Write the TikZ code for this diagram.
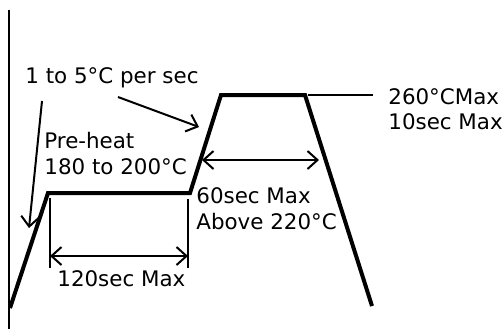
\documentclass[tikz,border=0pt]{standalone}
\usepackage{fontspec}
\setmainfont{DejaVu Sans}
\usetikzlibrary{arrows.meta}

\begin{document}
\begin{tikzpicture}[x=0.5pt,y=-0.5pt,
        txt/.style={anchor=base west,inner sep=0pt,font=\fontsize{10.7}{13}\selectfont},
        barb/.style={-{Straight Barb[length=5pt,width=9pt]},line width=1pt},
        dimarrow/.style={{Straight Barb[length=5pt,width=9pt]}-{Straight Barb[length=5pt,width=9pt]},line width=1pt}]
        \useasboundingbox(0,0)rectangle(502,329);
        \draw[line width=0.7pt](9,10)--(9,329);
        \draw[line width=2pt,line join=miter](10,308)--(48,193)--(190,193)--(221,95)--(305,95)--(372,306);
        \node[txt](rate)at(25,83){1 to 5°C per sec};
        \coordinate(ratetail)at(118,97);
        \coordinate(ratehead)at(199,127);
        \draw[barb](ratetail)--(ratehead);
        \node[txt](preheat)at(44,148){Pre-heat};
        \node[txt](preheattemp)at(44,174){180 to 200°C};
        \coordinate(preheattail)at(42,101);
        \coordinate(preheathead)at(29,228);
        \draw[barb](preheattail)--(preheathead);
        \coordinate(peakend)at(308,95);
        \coordinate(peaklead)at(373,95);
        \draw[line width=0.6pt](peakend)--(peaklead);
        \node[txt](peak)at(388,104){260°CMax};
        \node[txt](peaktime)at(388,129){10sec Max};
        \coordinate(abovel)at(202,160);
        \coordinate(abover)at(319,160);
        \draw[dimarrow](abovel)--(abover);
        \node[txt](above)at(196,203){60sec Max};
        \node[txt](abovetemp)at(196,229){Above 220°C};
        \draw[line width=0.6pt](50,198)--(50,268);
        \draw[line width=0.6pt](188,199)--(188,268);
        \coordinate(soakl)at(50,256);
        \coordinate(soakr)at(188,256);
        \draw[dimarrow](soakl)--(soakr);
        \node[txt](soak)at(57,286){120sec Max};
    \end{tikzpicture}
\end{document}
